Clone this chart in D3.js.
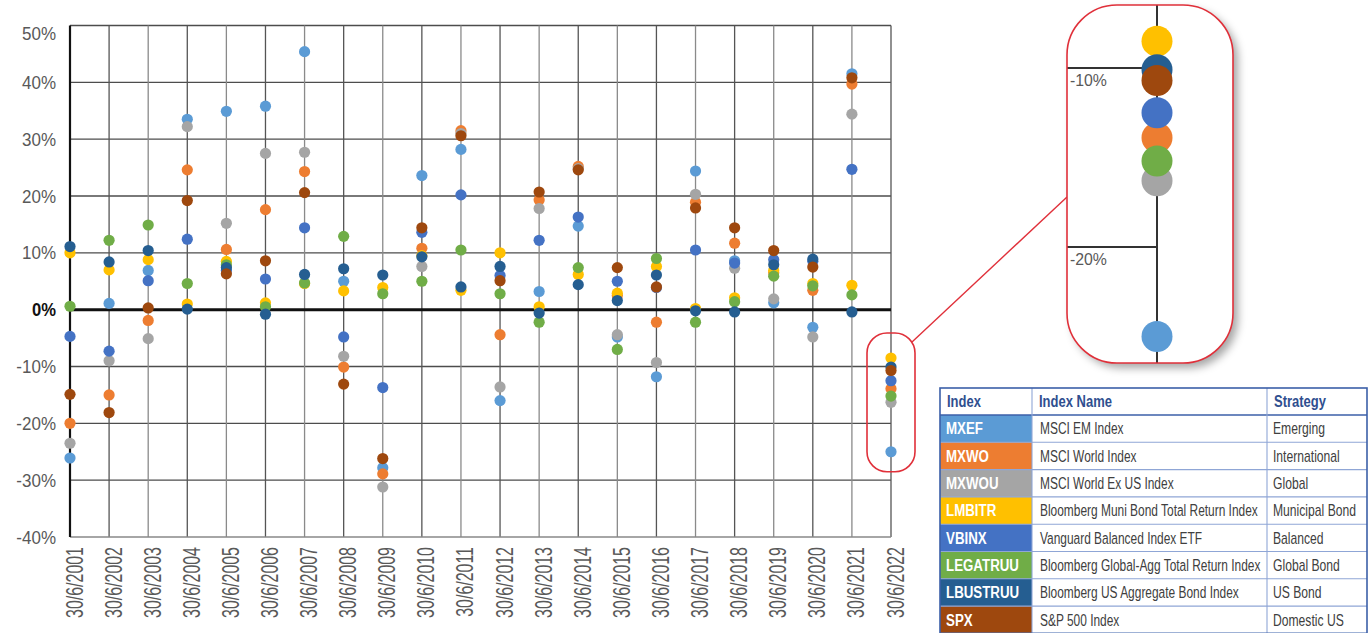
<!DOCTYPE html>
<html>
<head>
<meta charset="utf-8">
<script src="https://cdn.jsdelivr.net/npm/d3@7/dist/d3.min.js"></script>
<style>
  html, body { margin: 0; padding: 0; background: #fff; }
  svg { display: block; }
  text { font-family: "Liberation Sans", Arial, sans-serif; }
</style>
</head>
<body>
<svg id="chart" width="1371" height="633"></svg>
<script>
// Fiscal-year (to 30 June) returns, in percent
const years = ["30/6/2001","30/6/2002","30/6/2003","30/6/2004","30/6/2005","30/6/2006","30/6/2007",
  "30/6/2008","30/6/2009","30/6/2010","30/6/2011","30/6/2012","30/6/2013","30/6/2014","30/6/2015",
  "30/6/2016","30/6/2017","30/6/2018","30/6/2019","30/6/2020","30/6/2021","30/6/2022"];

const seriesCodes  = ["MXEF","MXWO","MXWOU","LMBITR","VBINX","LEGATRUU","LBUSTRUU","SPX"];
const seriesNames  = ["MSCI EM Index","MSCI World Index","MSCI World Ex US Index","Bloomberg Muni Bond Total Return Index",
  "Vanguard Balanced Index ETF","Bloomberg Global-Agg Total Return Index","Bloomberg US Aggregate Bond Index","S&P 500 Index"];
const seriesStrategy = ["Emerging","International","Global","Municipal Bond","Balanced","Global Bond","US Bond","Domestic US"];
const seriesColors = ["#5B9BD5","#ED7D31","#A5A5A5","#FFC000","#4472C4","#70AD47","#255E91","#9E480E"];

const MXEF     = [-26.1, 1.1, 6.9, 33.5, 34.9, 35.8, 45.4, 5.0, -27.8, 23.6, 28.2, -16.0, 3.2, 14.7, -4.8, -11.8, 24.4, 8.6, 1.2, -3.1, 41.5, -25.0];
const MXWO     = [-20.0, -15.0, -1.9, 24.6, 10.6, 17.6, 24.3, -10.1, -28.9, 10.8, 31.5, -4.4, 19.3, 25.2, 2.5, -2.2, 18.9, 11.7, 6.5, 3.4, 39.7, -13.9];
const MXWOU    = [-23.5, -9.0, -5.1, 32.2, 15.2, 27.5, 27.7, -8.2, -31.2, 7.6, 31.0, -13.6, 17.8, 24.8, -4.4, -9.3, 20.3, 7.3, 1.9, -4.8, 34.4, -16.3];
const LMBITR   = [10.0, 7.0, 8.8, 1.0, 8.5, 1.2, 4.6, 3.3, 3.9, 9.5, 3.4, 10.0, 0.5, 6.2, 2.9, 7.6, 0.2, 2.1, 6.9, 4.6, 4.3, -8.5];
const VBINX    = [-4.7, -7.3, 5.1, 12.4, 6.9, 5.4, 14.4, -4.8, -13.7, 13.6, 20.2, 6.0, 12.2, 16.3, 5.0, 3.9, 10.5, 8.2, 8.8, 8.5, 24.7, -12.5];
const LEGATRUU = [0.6, 12.2, 14.9, 4.6, 7.9, 0.5, 4.7, 12.9, 2.8, 5.0, 10.5, 2.8, -2.2, 7.4, -7.0, 9.0, -2.2, 1.4, 5.9, 4.2, 2.6, -15.2];
const LBUSTRUU = [11.1, 8.4, 10.4, 0.1, 7.4, -0.8, 6.2, 7.2, 6.1, 9.3, 4.0, 7.6, -0.6, 4.4, 1.6, 6.1, -0.2, -0.4, 7.9, 8.9, -0.4, -10.1];
const SPX      = [-14.9, -18.1, 0.3, 19.2, 6.3, 8.6, 20.6, -13.1, -26.2, 14.4, 30.6, 5.1, 20.7, 24.6, 7.4, 4.0, 17.9, 14.4, 10.4, 7.5, 40.8, -10.7];

const seriesValues = [MXEF, MXWO, MXWOU, LMBITR, VBINX, LEGATRUU, LBUSTRUU, SPX];
const yTicks = [-40, -30, -20, -10, 0, 10, 20, 30, 40, 50];
const zoomTicks = [-10, -20];
const tableHeader = ["Index", "Index Name", "Strategy"];

const svg = d3.select("#chart");

// Squeeze a group of labels horizontally (narrow type) so one sample string gets the given width.
// The squeeze is done with a transform around each label's own anchor point.
function condense(sel, sample, width) {
  let natural = null;
  sel.each(function () { if (this.textContent === sample) natural = this.getComputedTextLength(); });
  if (!natural) return;
  const f = width / natural;
  sel.each(function () {
    const t = d3.select(this);
    const x0 = +t.attr("x") || 0;
    const base = t.attr("transform") || "";
    t.attr("x", 0).attr("transform", `${base} translate(${x0},0) scale(${f},1)`);
  });
}

// ---------- main scatter ----------
const x = d3.scalePoint().domain(years).range([70, 891]);
const y = d3.scaleLinear().domain([-40, 50]).range([537, 25.5]);

const plot = svg.append("g");

// horizontal grid
plot.append("g").selectAll("line").data(yTicks.filter(t => t !== 0 && t !== -40)).join("line")
  .attr("x1", 70).attr("x2", 891)
  .attr("y1", d => y(d)).attr("y2", d => y(d))
  .attr("stroke", "#4d4d4d").attr("stroke-width", 1.4);

// vertical grid at each year
plot.append("g").selectAll("line").data(years.slice(1)).join("line")
  .attr("x1", d => x(d)).attr("x2", d => x(d))
  .attr("y1", y(50)).attr("y2", y(-40))
  .attr("stroke", (d, i) => i % 2 ? "#8a8a8a" : "#555").attr("stroke-width", 1.3);

// bottom border
plot.append("line").attr("x1", 70).attr("x2", 891).attr("y1", y(-40)).attr("y2", y(-40))
  .attr("stroke", "#888").attr("stroke-width", 1.3);

// left axis line and zero line
plot.append("line").attr("x1", 70).attr("x2", 70).attr("y1", y(50)).attr("y2", y(-40))
  .attr("stroke", "#111").attr("stroke-width", 2.2);
plot.append("line").attr("x1", 69).attr("x2", 891).attr("y1", y(0)).attr("y2", y(0))
  .attr("stroke", "#111").attr("stroke-width", 3);

// y axis labels
const yAxis = d3.axisLeft(y).tickValues(yTicks).tickSize(0).tickPadding(14)
  .tickFormat(d => d + "%");
const yg = plot.append("g").attr("transform", "translate(70,0)").call(yAxis);
yg.select(".domain").remove();
yg.selectAll("text")
  .attr("font-family", null).attr("font-size", 18)
  .attr("fill", d => d === 0 ? "#111" : "#595959")
  .attr("font-weight", d => d === 0 ? "bold" : "normal")
  .attr("dy", d => d === 50 ? "0.75em" : "0.34em");
condense(yg.selectAll("text").filter(d => d !== 0), "50%", 34);
condense(yg.selectAll("text").filter(d => d === 0), "0%", 24);

// x axis labels (rotated)
const xAxis = d3.axisBottom(x).tickSize(0).tickPadding(0);
const xg = plot.append("g").attr("transform", `translate(0,${y(-40)})`).call(xAxis);
xg.select(".domain").remove();
xg.selectAll("text")
  .attr("font-family", null).attr("font-size", 23.5).attr("fill", "#595959")
  .attr("text-anchor", "end").attr("dy", null).attr("y", null)
  .attr("transform", "translate(12,10) rotate(-90)");
condense(xg.selectAll("text"), "30/6/2001", 71);

// dots, drawn in legend order
seriesValues.forEach((vals, si) => {
  plot.append("g").selectAll("circle").data(vals).join("circle")
    .attr("cx", (d, i) => x(years[i]))
    .attr("cy", d => y(d))
    .attr("r", 5.6)
    .attr("fill", seriesColors[si]);
});

// highlight round-rect around the latest year
const last = years[years.length - 1];
const lastVals = seriesValues.map(v => v[v.length - 1]);
const hx0 = x(last) - 24, hx1 = x(last) + 24;
const hy0 = y(d3.max(lastVals)) - 25, hy1 = y(d3.min(lastVals)) + 20;
plot.append("rect")
  .attr("x", hx0).attr("y", hy0).attr("width", hx1 - hx0).attr("height", hy1 - hy0)
  .attr("rx", 20).attr("ry", 20)
  .attr("fill", "none").attr("stroke", "#E0303A").attr("stroke-width", 1.6);

// ---------- magnified callout ----------
const cx0 = 1067, cx1 = 1233, cy0 = 5, cy1 = 363;
const cMid = 1157;
const yz = d3.scaleLinear().domain([-10, -20]).range([68, 247]);

// connector
svg.append("line").attr("x1", hx1 - 3).attr("y1", hy0 + 9).attr("x2", cx0).attr("y2", 197)
  .attr("stroke", "#E0303A").attr("stroke-width", 1.4);

const defs = svg.append("defs");
const shadow = defs.append("filter").attr("id", "shadow")
  .attr("x", "-20%").attr("y", "-20%").attr("width", "150%").attr("height", "150%");
shadow.append("feDropShadow").attr("dx", 5).attr("dy", 5).attr("stdDeviation", 4)
  .attr("flood-color", "#000").attr("flood-opacity", 0.35);
defs.append("clipPath").attr("id", "calloutClip").append("rect")
  .attr("x", cx0).attr("y", cy0).attr("width", cx1 - cx0).attr("height", cy1 - cy0)
  .attr("rx", 50).attr("ry", 50);

svg.append("rect")
  .attr("x", cx0).attr("y", cy0).attr("width", cx1 - cx0).attr("height", cy1 - cy0)
  .attr("rx", 50).attr("ry", 50)
  .attr("fill", "#fff").attr("filter", "url(#shadow)");

const cg = svg.append("g").attr("clip-path", "url(#calloutClip)");
cg.append("line").attr("x1", cMid).attr("x2", cMid).attr("y1", cy0).attr("y2", cy1)
  .attr("stroke", "#333").attr("stroke-width", 2);
cg.selectAll(".zg").data(zoomTicks).join("line")
  .attr("x1", cx0).attr("x2", cMid)
  .attr("y1", d => yz(d)).attr("y2", d => yz(d))
  .attr("stroke", "#333").attr("stroke-width", 2);
const zlab = cg.selectAll(".zt").data(zoomTicks).join("text")
  .attr("x", cx0 + 3).attr("y", d => yz(d) + 18.5)
  .attr("font-size", 16.5).attr("fill", "#595959")
  .text(d => d + "%");
condense(zlab, "-10%", 37);
seriesValues.forEach((vals, si) => {
  cg.append("circle")
    .attr("cx", cMid).attr("cy", yz(vals[vals.length - 1]))
    .attr("r", 15.5).attr("fill", seriesColors[si]);
});
svg.append("rect")
  .attr("x", cx0).attr("y", cy0).attr("width", cx1 - cx0).attr("height", cy1 - cy0)
  .attr("rx", 50).attr("ry", 50)
  .attr("fill", "none").attr("stroke", "#E0303A").attr("stroke-width", 1.6);

// ---------- index table ----------
const tx = [940, 1032, 1267, 1367];
const ty0 = 388, headH = 27, rowH = 27.3;
const tg = svg.append("g");
const nRows = seriesCodes.length;
const tBottom = ty0 + headH + rowH * nRows;

tg.selectAll(".cell").data(seriesCodes).join("rect")
  .attr("x", tx[0]).attr("y", (d, i) => ty0 + headH + i * rowH)
  .attr("width", tx[1] - tx[0]).attr("height", rowH)
  .attr("fill", (d, i) => seriesColors[i]);

// row and column rules
tg.selectAll(".hr").data(d3.range(nRows + 1)).join("line")
  .attr("x1", tx[0]).attr("x2", tx[3])
  .attr("y1", r => ty0 + headH + r * rowH).attr("y2", r => ty0 + headH + r * rowH)
  .attr("stroke", r => r === 0 ? "#3B5FA8" : "#8FA6D6")
  .attr("stroke-width", r => r === 0 ? 1.6 : 1.1);
tg.selectAll(".vr").data(tx.slice(1, 3)).join("line")
  .attr("x1", d => d).attr("x2", d => d).attr("y1", ty0).attr("y2", tBottom)
  .attr("stroke", "#8FA6D6").attr("stroke-width", 1.1);
tg.append("rect").attr("x", tx[0]).attr("y", ty0).attr("width", tx[3] - tx[0]).attr("height", tBottom - ty0)
  .attr("fill", "none").attr("stroke", "#3B5FA8").attr("stroke-width", 1.6);

const th = tg.selectAll(".th").data(tableHeader).join("text")
  .attr("x", (d, i) => tx[i] + 7).attr("y", ty0 + 19.5)
  .attr("font-size", 16).attr("font-weight", "bold")
  .attr("fill", "#2F4F8F").text(d => d);
condense(th, "Index Name", 73);

const codes = tg.selectAll(".code").data(seriesCodes).join("text")
  .attr("x", tx[0] + 6).attr("y", (d, i) => ty0 + headH + i * rowH + 19.5)
  .attr("font-size", 17).attr("font-weight", "bold")
  .attr("fill", "#fff").text(d => d);
condense(codes, "LEGATRUU", 73);

const names = tg.selectAll(".name").data(seriesNames).join("text")
  .attr("x", tx[1] + 8).attr("y", (d, i) => ty0 + headH + i * rowH + 19.5)
  .attr("font-size", 17)
  .attr("fill", "#404040").text(d => d);
condense(names, "Bloomberg Muni Bond Total Return Index", 218);

const strat = tg.selectAll(".strat").data(seriesStrategy).join("text")
  .attr("x", tx[2] + 6).attr("y", (d, i) => ty0 + headH + i * rowH + 19.5)
  .attr("font-size", 17)
  .attr("fill", "#404040").text(d => d);
condense(strat, "Municipal Bond", 83);
</script>
</body>
</html>
